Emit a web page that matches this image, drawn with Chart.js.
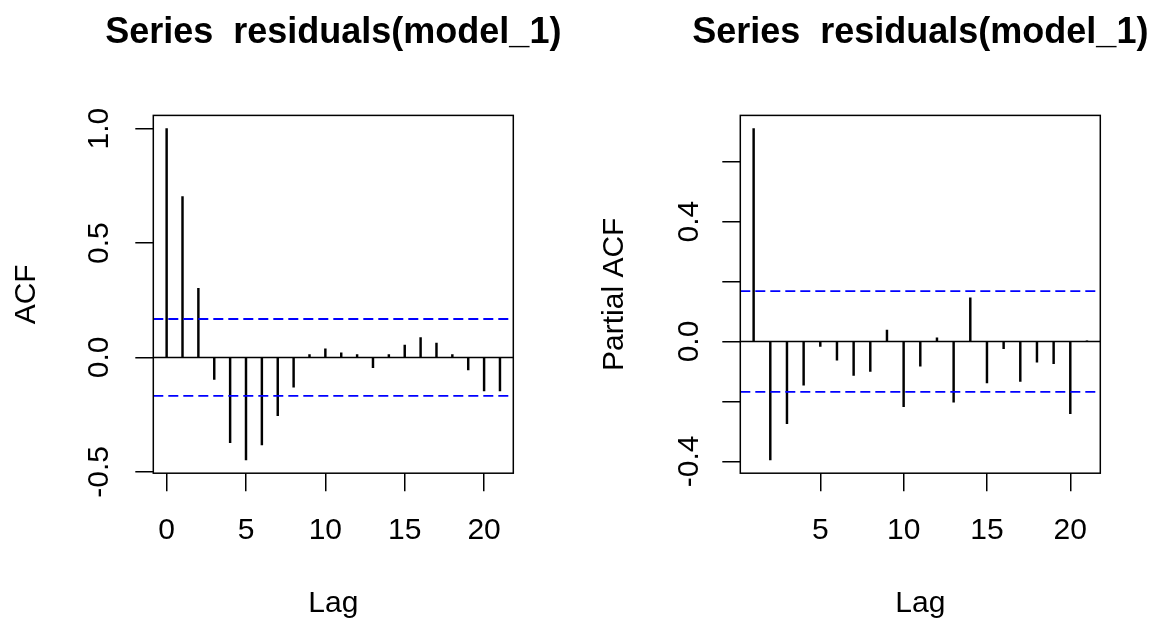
<!DOCTYPE html>
<html>
<head>
<meta charset="utf-8">
<script src="https://cdn.jsdelivr.net/npm/chart.js@4.4.1/dist/chart.umd.min.js"></script>
<style>
  html, body { margin: 0; padding: 0; background: #fff; }
  #wrap { position: relative; width: 1160px; height: 620px; overflow: hidden; }
  .pane { position: absolute; top: 0; width: 580px; height: 620px; }
  #p1 { left: 0; }
  #p2 { left: 580px; }
</style>
</head>
<body>
<div id="wrap">
  <div class="pane" id="p1"><canvas id="c1" width="580" height="620"></canvas></div>
  <div class="pane" id="p2"><canvas id="c2" width="580" height="620"></canvas></div>
</div>
<script>
// ---------- data ----------
const chartTitle = 'Series  residuals(model_1)';
const acfLags = [0,1,2,3,4,5,6,7,8,9,10,11,12,13,14,15,16,17,18,19,20,21];
const acfValues = [1.000, 0.703, 0.302, -0.096, -0.373, -0.448, -0.382, -0.255, -0.130, 0.012, 0.038,
                   0.020, 0.012, -0.045, 0.012, 0.054, 0.087, 0.063, 0.012, -0.054, -0.146, -0.146];
const pacfLags = [1,2,3,4,5,6,7,8,9,10,11,12,13,14,15,16,17,18,19,20,21];
const pacfValues = [0.710, -0.395, -0.274, -0.146, -0.016, -0.062, -0.113, -0.100, 0.038, -0.217,
                    -0.082, 0.012, -0.202, 0.146, -0.138, -0.024, -0.133, -0.069, -0.074, -0.241, 0.002];
const ciBound = 0.168;
const acfXTicks = [0, 5, 10, 15, 20];
const acfYTicks = [-0.5, 0, 0.5, 1.0];
const acfYLabels = ['-0.5', '0.0', '0.5', '1.0'];
const pacfXTicks = [5, 10, 15, 20];
const pacfYTicks = [-0.4, -0.2, 0, 0.2, 0.4, 0.6];
const pacfYLabels = ['-0.4', '', '0.0', '', '0.4', ''];

const FONT = "Arial, 'Liberation Sans', sans-serif";
Chart.defaults.font.family = FONT;
Chart.defaults.color = '#000';

function rRange(vals) { // R style 4% axis extension
  const lo = Math.min(...vals), hi = Math.max(...vals);
  const d = (hi - lo) * 0.04;
  return [lo - d, hi + d];
}

const boxPlugin = {
  id: 'rbox',
  afterDraw(chart, args, opts) {
    const {ctx, chartArea: a} = chart;
    ctx.save();
    ctx.strokeStyle = '#000';
    ctx.lineWidth = 1.5;
    ctx.strokeRect(a.left, a.top, a.right - a.left, a.bottom - a.top);
    ctx.fillStyle = '#000';
    // main title, centred over the plot region (R style)
    ctx.font = 'bold 36px ' + FONT;
    ctx.textAlign = 'center';
    ctx.textBaseline = 'alphabetic';
    ctx.fillText(opts.title, (a.left + a.right) / 2, 42.5);
    // rotated y tick labels (R style, parallel to axis)
    const ys = chart.scales.y;
    ctx.font = '30px ' + FONT;
    opts.labels.forEach((lab, i) => {
      if (!lab) return;
      const py = ys.getPixelForValue(opts.ticks[i]);
      ctx.save();
      ctx.translate(a.left - opts.labelOffset, py);
      ctx.rotate(-Math.PI / 2);
      ctx.fillText(lab, 0, 0);
      ctx.restore();
    });
    ctx.restore();
  }
};

function makeChart(canvasId, cfg) {
  const [xMin, xMax] = rRange(cfg.lags);
  const [yMin, yMax] = rRange(cfg.values.concat([ciBound, -ciBound]));
  const hline = (v) => [{x: xMin, y: v}, {x: xMax, y: v}];
  return new Chart(document.getElementById(canvasId), {
    type: 'bar',
    data: {
      datasets: [
        { type: 'line', data: hline(ciBound), borderColor: '#0000ff', borderWidth: 1.8,
          borderDash: [10, 5], pointRadius: 0, fill: false },
        { type: 'line', data: hline(-ciBound), borderColor: '#0000ff', borderWidth: 1.8,
          borderDash: [10, 5], pointRadius: 0, fill: false },
        { type: 'line', data: hline(0), borderColor: '#000', borderWidth: 1.4,
          pointRadius: 0, fill: false },
        { type: 'bar', data: cfg.lags.map((l, i) => ({x: l, y: cfg.values[i]})),
          backgroundColor: '#000', borderWidth: 0, barThickness: 1.8 }
      ]
    },
    plugins: [boxPlugin],
    options: {
      responsive: false,
      devicePixelRatio: 1,
      animation: false,
      layout: { padding: { left: 0, right: cfg.padRight, top: 115.4, bottom: 0 } },
      plugins: {
        legend: { display: false },
        tooltip: { enabled: false },
        title: { display: false },
        rbox: { title: chartTitle, ticks: cfg.yTicks, labels: cfg.yLabels, labelOffset: cfg.labelOffset }
      },
      scales: {
        x: {
          type: 'linear', min: xMin, max: xMax, offset: false,
          afterFit: (s) => { s.height = 620 - 473.2; },
          afterBuildTicks: (s) => { s.ticks = cfg.xTicks.map(v => ({value: v})); },
          ticks: { font: { size: 30 }, padding: 22, color: '#000', maxRotation: 0,
                   callback: (v) => String(v) },
          grid: { display: true, drawOnChartArea: false, drawTicks: true, tickLength: 18,
                  color: '#000', lineWidth: 1.5, offset: false },
          border: { display: false },
          title: { display: true, text: 'Lag', color: '#000',
                   font: { size: 30, lineHeight: 1 }, padding: { top: 0, bottom: 1 } }
        },
        y: {
          type: 'linear', min: yMin, max: yMax,
          afterFit: (s) => { s.width = cfg.yWidth; },
          afterBuildTicks: (s) => { s.ticks = cfg.yTicks.map(v => ({value: v})); },
          ticks: { display: false },
          grid: { display: true, drawOnChartArea: false, drawTicks: true, tickLength: 18,
                  color: '#000', lineWidth: 1.5 },
          border: { display: false },
          title: { display: true, text: cfg.yTitle, color: '#000',
                   font: { size: 30, lineHeight: 1 }, padding: { top: cfg.yTitlePad, bottom: 0 } }
        }
      }
    }
  });
}

makeChart('c1', {
  lags: acfLags, values: acfValues, xTicks: acfXTicks, yTicks: acfYTicks, yLabels: acfYLabels,
  yTitle: 'ACF', yWidth: 153.3, padRight: 66.7, labelOffset: 45, yTitlePad: 11.5
});
makeChart('c2', {
  lags: pacfLags, values: pacfValues, xTicks: pacfXTicks, yTicks: pacfYTicks, yLabels: pacfYLabels,
  yTitle: 'Partial ACF', yWidth: 160.3, padRight: 59.7, labelOffset: 42, yTitlePad: 20
});
</script>
</body>
</html>
